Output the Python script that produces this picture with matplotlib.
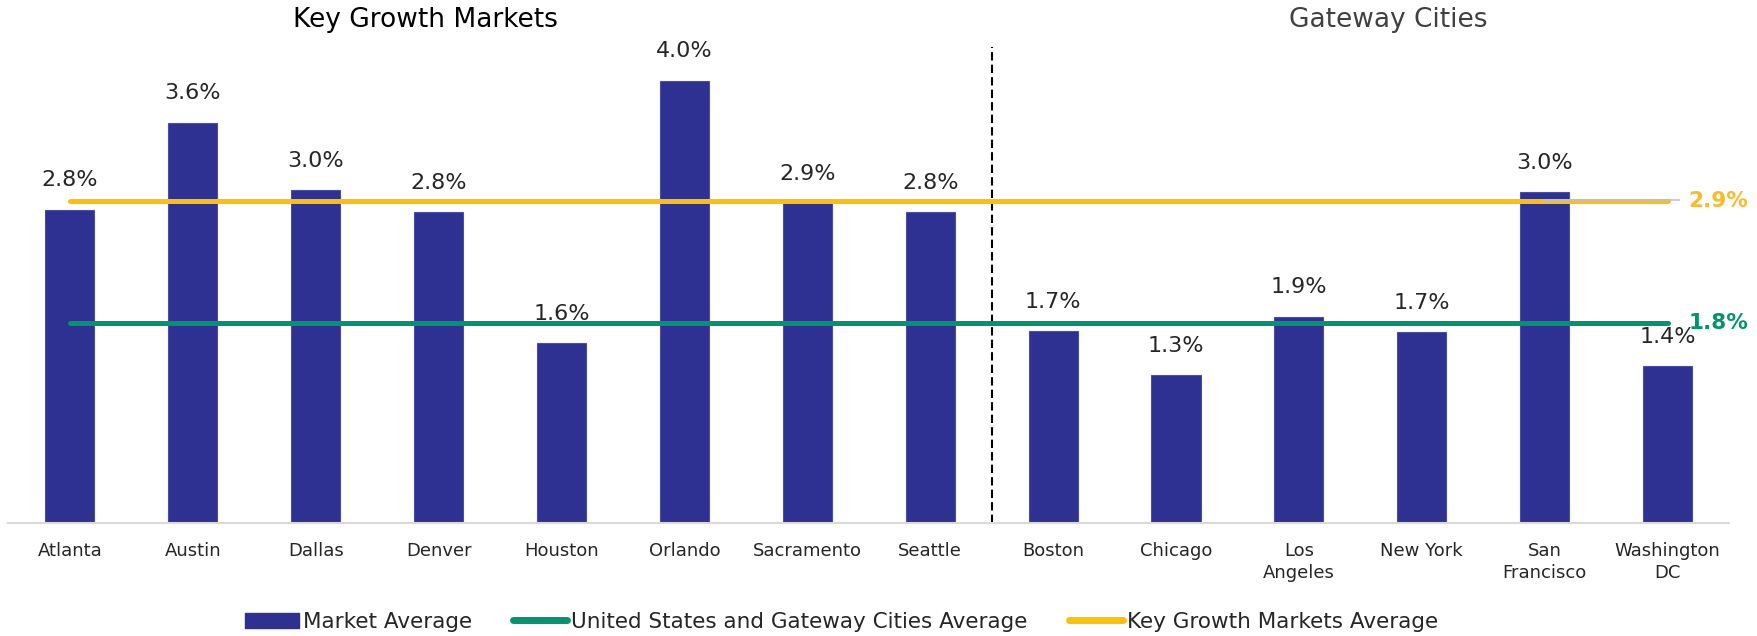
import matplotlib.pyplot as plt
from matplotlib.lines import Line2D
from matplotlib.patches import Patch

# market averages (%)
markets = ["Atlanta", "Austin", "Dallas", "Denver", "Houston", "Orlando",
           "Sacramento", "Seattle", "Boston", "Chicago", "Los\nAngeles",
           "New York", "San\nFrancisco", "Washington\nDC"]
market_avg = [2.84, 3.63, 3.02, 2.82, 1.63, 4.01, 2.90, 2.82,
              1.74, 1.34, 1.87, 1.73, 3.00, 1.42]
key_growth_avg = 2.92
us_gateway_avg = 1.81

bar_col = "#2E3192"
green = "#00956E"
yellow = "#FFC000"
txt = "#262626"

fig = plt.figure(figsize=(17.57, 6.36), dpi=100)
ax = fig.add_axes([0.0048, 0.178, 0.9793, 0.7486])

x = list(range(len(markets)))
ax.bar(x, market_avg, width=0.4, color=bar_col, edgecolor="#4B4FA3", linewidth=0.8, zorder=2)

for xi, v in zip(x, market_avg):
    ax.annotate(f"{v:.1f}%", (xi, v), xytext=(0, 14), textcoords="offset points",
                ha="center", va="bottom", fontsize=16, color=txt)

# average lines
ax.plot([x[0], x[-1]], [key_growth_avg] * 2, color=yellow, lw=3.6,
        solid_capstyle="round", zorder=3)
ax.plot([x[0], x[-1]], [us_gateway_avg] * 2, color=green, lw=3.6,
        solid_capstyle="round", zorder=3)
ax.plot([x[-2], x[-1] + 0.09], [key_growth_avg + 0.012] * 2, color="#C0C0C0", lw=1.2, zorder=4)
ax.text(x[-1] + 0.17, key_growth_avg, f"{key_growth_avg:.1f}%", color="#FBBA2A",
        fontsize=15.5, fontweight="semibold", va="center", ha="left")
ax.text(x[-1] + 0.17, us_gateway_avg, f"{us_gateway_avg:.1f}%", color=green,
        fontsize=15.5, fontweight="semibold", va="center", ha="left")

# split between the two groups
ax.axvline(7.5, color="black", lw=1.5, linestyle=(0, (4, 2)), zorder=1)

ax.set_xlim(-0.5, len(markets) - 0.5)
ax.set_ylim(0, 4.32)
ax.set_xticks(x)
ax.set_xticklabels(markets, fontsize=13, color=txt, linespacing=1.25)
ax.tick_params(axis="x", length=0, pad=14)
ax.set_yticks([])
for s in ["top", "left", "right"]:
    ax.spines[s].set_visible(False)
ax.spines["bottom"].set_color("#D9D9D9")
ax.spines["bottom"].set_linewidth(1.5)

fig.text(0.242, 0.968, "Key Growth Markets", fontsize=19, color="black", ha="center", va="center")
fig.text(0.79, 0.968, "Gateway Cities", fontsize=19, color="#404040", ha="center", va="center")

handles = [
    Patch(facecolor=bar_col, edgecolor=bar_col),
    Line2D([], [], color=green, lw=5, solid_capstyle="round"),
    Line2D([], [], color=yellow, lw=5, solid_capstyle="round"),
]
labels = ["Market Average", "United States and Gateway Cities Average",
          "Key Growth Markets Average"]
fig.legend(handles, labels, loc="center", bbox_to_anchor=(0.479, 0.022), ncol=3,
           frameon=False, fontsize=15.5, handlelength=2.5, handleheight=0.7,
           handletextpad=0.2, columnspacing=1.9, labelcolor=txt)

fig.savefig("out.png", dpi=100)
